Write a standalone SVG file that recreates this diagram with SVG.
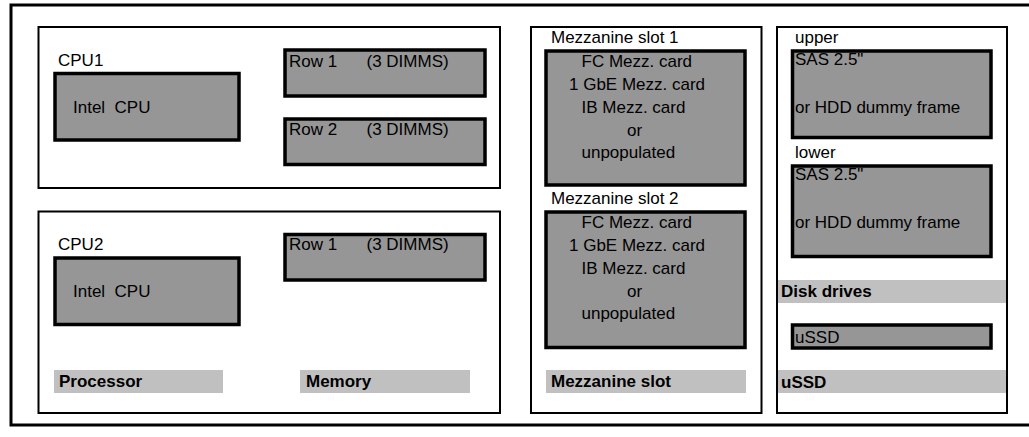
<svg xmlns="http://www.w3.org/2000/svg" width="1029" height="437" viewBox="0 0 1029 437">
<style>
.frame{fill:none;stroke:#000;stroke-width:3}
.box{fill:#fff;stroke:#000;stroke-width:2}
.part{fill:#969696;stroke:#000;stroke-width:3.5}
.bar{fill:#c0c0c0;stroke:none}
text{font-family:"Liberation Sans",Arial,sans-serif;font-size:17px;fill:#000}
.b{font-weight:bold}
</style>
<rect width="1029" height="437" fill="#fff"/>
<rect class="frame" x="11" y="5" width="1030" height="420"/>

<g id="processor1">
<rect class="box" x="38.5" y="27" width="461.5" height="161"/>
<text x="58" y="66">CPU1</text>
</g>
<g id="cpu1">
<rect class="part" x="55" y="73.5" width="184" height="66.5"/>
<text x="73" y="112.5" xml:space="preserve">Intel  CPU</text>
</g>
<g id="mem1-row1">
<rect class="part" x="285" y="50" width="200" height="46"/>
<text x="289" y="66.5"><tspan>Row 1</tspan><tspan x="366.5">(3 DIMMS)</tspan></text>
</g>
<g id="mem1-row2">
<rect class="part" x="285" y="119" width="200" height="45.5"/>
<text x="289" y="135"><tspan>Row 2</tspan><tspan x="366.5">(3 DIMMS)</tspan></text>
</g>

<g id="processor2">
<rect class="box" x="38.5" y="211.5" width="461.5" height="201.5"/>
<text x="58" y="250">CPU2</text>
<rect class="bar" x="54" y="370" width="169" height="23"/>
<text class="b" x="59" y="387">Processor</text>
<rect class="bar" x="300" y="370" width="170" height="23"/>
<text class="b" x="306" y="387">Memory</text>
</g>
<g id="cpu2">
<rect class="part" x="55" y="258" width="184" height="66.5"/>
<text x="73" y="297" xml:space="preserve">Intel  CPU</text>
</g>
<g id="mem2-row1">
<rect class="part" x="285" y="234.5" width="200" height="45.5"/>
<text x="289" y="250"><tspan>Row 1</tspan><tspan x="366.5">(3 DIMMS)</tspan></text>
</g>

<g id="mezzanine">
<rect class="box" x="531" y="27" width="230.5" height="386"/>
<text x="551" y="43">Mezzanine slot 1</text>
<text x="551" y="204">Mezzanine slot 2</text>
<rect class="bar" x="546" y="370" width="200" height="23"/>
<text class="b" x="551" y="387">Mezzanine slot</text>
</g>
<g id="mezz-slot1">
<rect class="part" x="546" y="51" width="199" height="134"/>
<text x="581.5" y="66.5">FC Mezz. card</text>
<text x="569" y="89.5">1 GbE Mezz. card</text>
<text x="581.5" y="112.5">IB Mezz. card</text>
<text x="627" y="135.5">or</text>
<text x="581.5" y="158">unpopulated</text>
</g>
<g id="mezz-slot2">
<rect class="part" x="546" y="212" width="199" height="135.5"/>
<text x="581.5" y="227.5">FC Mezz. card</text>
<text x="569" y="251">1 GbE Mezz. card</text>
<text x="581.5" y="274">IB Mezz. card</text>
<text x="627" y="296.5">or</text>
<text x="581.5" y="319">unpopulated</text>
</g>

<g id="disks">
<rect class="box" x="777" y="27" width="230" height="386"/>
<text x="795" y="42.5">upper</text>
<text x="795" y="158">lower</text>
<rect class="bar" x="778" y="280" width="228" height="23"/>
<text class="b" x="781" y="297">Disk drives</text>
<rect class="bar" x="778" y="370" width="228" height="23"/>
<text class="b" x="781" y="387.5">uSSD</text>
</g>
<g id="disk-upper">
<rect class="part" x="792.5" y="51" width="198.5" height="86.5"/>
<text x="795" y="65">SAS 2.5"</text>
<text x="795" y="113">or HDD dummy frame</text>
</g>
<g id="disk-lower">
<rect class="part" x="792.5" y="166" width="198.5" height="90.5"/>
<text x="795" y="180">SAS 2.5"</text>
<text x="795" y="228">or HDD dummy frame</text>
</g>
<g id="ussd">
<rect class="part" x="792.5" y="325" width="198.5" height="23"/>
<text x="795" y="343">uSSD</text>
</g>
<g id="connectors"/>
</svg>
